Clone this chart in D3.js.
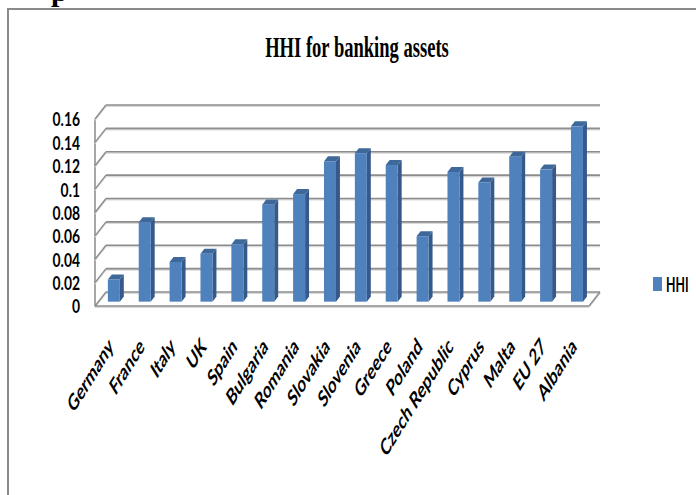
<!DOCTYPE html>
<html>
<head>
<meta charset="utf-8">
<script src="https://cdn.jsdelivr.net/npm/d3@7"></script>
<style>
  html, body { margin: 0; padding: 0; background: #fff; }
  svg { display: block; }
</style>
</head>
<body>
<script>
// HHI (Herfindahl-Hirschman index) of banking assets by country
const categories = ["Germany", "France", "Italy", "UK", "Spain", "Bulgaria", "Romania",
  "Slovakia", "Slovenia", "Greece", "Poland", "Czech Republic", "Cyprus", "Malta", "EU 27", "Albania"];
const hhi = [0.019, 0.068, 0.034, 0.041, 0.049, 0.083, 0.092, 0.120, 0.127, 0.117,
  0.056, 0.111, 0.102, 0.124, 0.113, 0.150];
const yTicks = [0, 0.02, 0.04, 0.06, 0.08, 0.1, 0.12, 0.14, 0.16];
const yTickLabels = ["0", "0.02", "0.04", "0.06", "0.08", "0.1", "0.12", "0.14", "0.16"];
const seriesName = "HHI";
const chartTitle = "HHI for banking assets";

(function () {
  const W = 696, H = 495;
  const svg = d3.select("body").append("svg").attr("width", W).attr("height", H);

  // descender of the page heading that sits above the chart frame
  svg.append("text").attr("x", 51).attr("y", 1)
    .attr("font-family", "Liberation Serif, serif").attr("font-weight", "bold")
    .attr("font-size", 30).attr("fill", "#000").text("p");

  // chart frame
  svg.append("rect").attr("x", 8).attr("y", 9).attr("width", W + 20).attr("height", H + 20)
    .attr("fill", "#fff").attr("stroke", "#8a8a8a").attr("stroke-width", 2);

  // 3D projection: front plane scales plus a depth vector
  const DX = 11, DY = -14;
  const x = d3.scaleBand().domain(categories).range([95, 589]).paddingInner(0).paddingOuter(0);
  const y = d3.scaleLinear().domain([0, 0.16]).range([306, 119]);
  const x0 = x.range()[0], x1 = x.range()[1];

  const grid = svg.append("g");
  const gridColor = "#8c8c8c", shadeColor = "#d9d9d9";
  function seg(g, ax, ay, bx, by, w) {
    g.append("line").attr("x1", ax).attr("y1", ay + 1.2).attr("x2", bx).attr("y2", by + 1.2)
      .attr("stroke", shadeColor).attr("stroke-width", w);
    g.append("line").attr("x1", ax).attr("y1", ay).attr("x2", bx).attr("y2", by)
      .attr("stroke", gridColor).attr("stroke-width", w);
  }
  // left wall edge
  seg(grid, x0, y(0), x0, y(0.16), 1.4);
  yTicks.forEach(t => {
    // side wall diagonal and back wall gridline
    seg(grid, x0, y(t), x0 + DX, y(t) + DY, 1.4);
    seg(grid, x0 + DX, y(t) + DY, x1 + DX, y(t) + DY, 1.6);
  });
  // floor edges
  seg(grid, x0, y(0), x1, y(0), 1.6);
  seg(grid, x1, y(0), x1 + DX, y(0) + DY, 1.4);

  // bars
  const bw = 12, f1 = 0.31, f2 = 0.67;
  const frontFill = "#4f81bd", sideFill = "#34598a", topFill = "#3e6899";
  const bars = svg.append("g");
  categories.forEach((c, i) => {
    const v = hhi[i];
    const bx = x(c) + (x.bandwidth() - bw) / 2 + f1 * DX;
    const yt = y(v) + f1 * DY, yb = y(0) + f1 * DY;
    const ddx = (f2 - f1) * DX, ddy = (f2 - f1) * DY;
    bars.append("polygon")
      .attr("points", [[bx + bw, yt], [bx + bw + ddx, yt + ddy], [bx + bw + ddx, yb + ddy], [bx + bw, yb]].join(" "))
      .attr("fill", sideFill);
    bars.append("polygon")
      .attr("points", [[bx, yt], [bx + bw, yt], [bx + bw + ddx, yt + ddy], [bx + ddx, yt + ddy]].join(" "))
      .attr("fill", topFill);
    bars.append("rect").attr("x", bx).attr("y", yt).attr("width", bw).attr("height", yb - yt)
      .attr("fill", frontFill);
  });

  const sansFont = "Lato, 'Open Sans', sans-serif";

  // value axis labels
  const yAxis = svg.append("g");
  yTicks.forEach((t, i) => {
    yAxis.append("text")
      .attr("transform", `translate(80,${y(t) + 1}) scale(0.75,1)`)
      .attr("text-anchor", "end").attr("dy", "0.35em")
      .attr("font-family", sansFont).attr("font-weight", "bold").attr("font-size", 18.5)
      .attr("fill", "#000").text(yTickLabels[i]);
  });

  // category labels, slanted
  const xAxis = svg.append("g");
  categories.forEach(c => {
    const cx = x(c) + x.bandwidth() / 2 + 4;
    xAxis.append("text")
      .attr("transform", `translate(${cx},348) scale(0.62,1) rotate(-45)`)
      .attr("text-anchor", "end")
      .attr("font-family", sansFont).attr("font-weight", "bold").attr("font-size", 23)
      .attr("fill", "#000").text(c);
  });

  // title
  svg.append("text")
    .attr("transform", "translate(357,57) scale(0.64,1)")
    .attr("text-anchor", "middle")
    .attr("font-family", "Liberation Serif, 'Times New Roman', serif").attr("font-weight", "bold")
    .attr("font-size", 29).attr("fill", "#000").text(chartTitle);

  // legend
  const legend = svg.append("g");
  legend.append("rect").attr("x", 653).attr("y", 277).attr("width", 9).attr("height", 14).attr("fill", frontFill);
  legend.append("text")
    .attr("transform", "translate(666,291.5) scale(0.6,1)")
    .attr("font-family", sansFont).attr("font-weight", "bold").attr("font-size", 20.5)
    .attr("fill", "#000").text(seriesName);
})();
</script>
</body>
</html>
